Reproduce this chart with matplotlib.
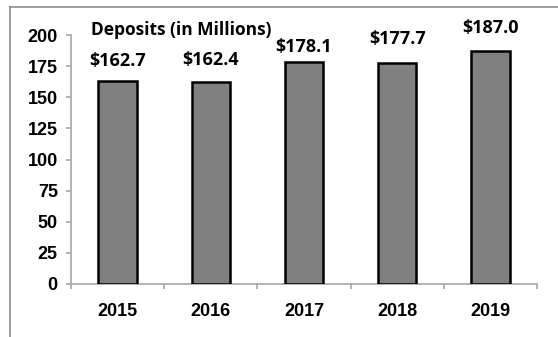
import matplotlib
matplotlib.use("Agg")
import matplotlib.pyplot as plt
import numpy as np

years = ["2015", "2016", "2017", "2018", "2019"]
deposits = [162.7, 162.4, 178.1, 177.7, 187.0]
labels = ["$162.7", "$162.4", "$178.1", "$177.7", "$187.0"]

W, H = 558, 337
fig = plt.figure(figsize=(W / 100, H / 100), dpi=100)
fig.patch.set_facecolor("white")

# outer frame (only top and left edges visible)
frame = "#8c8c8c"
fig.add_artist(plt.Line2D([10 / W, 1], [1 - 7 / H, 1 - 7 / H], color=frame, lw=1.2))
fig.add_artist(plt.Line2D([10 / W, 10 / W], [0, 1 - 7 / H], color=frame, lw=1.2))

ax = fig.add_axes([71 / W, (H - 284) / H, (537 - 71) / W, (284 - 35) / H])
x = np.arange(len(years))
ax.bar(x, deposits, width=0.41, color="#808080", edgecolor="black", linewidth=1.8, zorder=3)

ax.set_xlim(-0.5, len(years) - 0.5)
ax.set_ylim(0, 200)
ax.set_yticks(np.arange(0, 201, 25))
ax.set_xticks(x)
ax.set_xticklabels(years)
ax.set_xticks(np.arange(-0.5, len(years), 1), minor=True)

for s in ["top", "right"]:
    ax.spines[s].set_visible(False)
axis_col = "#a6a6a6"
ax.spines["left"].set_color(axis_col)
ax.spines["bottom"].set_color(axis_col)
ax.spines["left"].set_linewidth(1.2)
ax.spines["bottom"].set_linewidth(1.2)

ax.tick_params(axis="y", length=3.5, width=1.2, color=axis_col, pad=6)
ax.tick_params(axis="x", which="major", length=0, pad=14)
ax.tick_params(axis="x", which="minor", length=3.5, width=1.2, color=axis_col)

for t in ax.get_yticklabels() + ax.get_xticklabels():
    t.set_fontfamily("Liberation Sans")
    t.set_fontweight("bold")
    t.set_fontsize(13)

# label offsets in points (labels were hand-placed in the original)
offs = [15, 16, 11, 17, 17]
for xi, v, lab, o in zip(x, deposits, labels, offs):
    ax.annotate(lab, (xi, v), xytext=(0, o), textcoords="offset points",
                ha="center", va="center", fontsize=13, fontweight="bold",
                family="Open Sans", annotation_clip=False)

fig.text(181 / W, 1 - 30 / H, "Deposits (in Millions)", ha="center", va="center",
         fontsize=12.5, fontweight="bold", family="Open Sans")

fig.savefig("out.png", dpi=100)
